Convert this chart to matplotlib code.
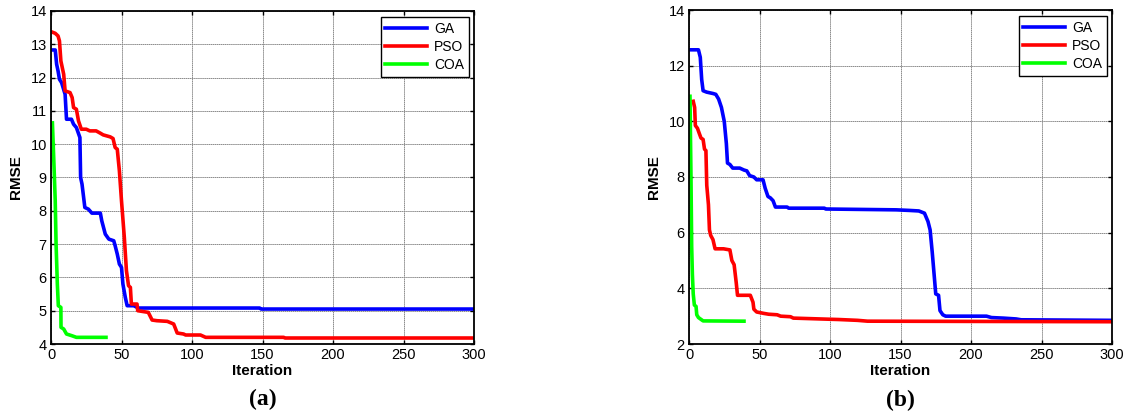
import numpy as np
import matplotlib
matplotlib.use("Agg")
import matplotlib.pyplot as plt

plt.rcParams["font.family"] = ["Liberation Sans", "DejaVu Sans"]

# ---- (a) convergence curves ----
a_ga_x = [0, 3, 4, 5, 6, 7.5, 10, 11, 14.5, 16, 18, 20.5, 21, 22, 24, 26.5, 29, 35, 36, 38.5, 41,
          44.5, 45.5, 47, 48.5, 50, 51, 52.7, 54, 58.7, 61, 62, 148, 149, 300]
a_ga_y = [12.83, 12.83, 12.4, 12.2, 11.95, 11.85, 11.5, 10.75, 10.75, 10.6, 10.5, 10.2, 9.0, 8.8, 8.1,
          8.05, 7.93, 7.93, 7.7, 7.3, 7.15, 7.1, 6.95, 6.7, 6.4, 6.3, 5.8, 5.4, 5.15, 5.15, 5.1, 5.08,
          5.08, 5.05, 5.05]
a_pso_x = [0, 3, 5, 6, 7, 9, 10, 13.5, 15, 16, 18, 19.5, 21.5, 25, 27.5, 32, 35, 37, 42, 44, 45.5, 47,
           48.5, 50, 52, 53.5, 55, 56.3, 57, 61, 61.5, 69, 71.7, 75, 82.5, 87, 89.5, 94, 95.5, 106,
           109.7, 165, 166, 300]
a_pso_y = [13.38, 13.33, 13.25, 13.1, 12.5, 12.1, 11.6, 11.55, 11.4, 11.1, 11.05, 10.7, 10.45, 10.45,
           10.4, 10.4, 10.33, 10.28, 10.22, 10.17, 9.9, 9.85, 9.2, 8.3, 7.2, 6.2, 5.75, 5.7, 5.2, 5.2,
           5.0, 4.95, 4.72, 4.7, 4.68, 4.6, 4.33, 4.3, 4.27, 4.27, 4.2, 4.2, 4.18, 4.18]
a_coa_x = [1, 2, 3, 3.6, 4.5, 5.2, 7, 7.1, 9, 11, 14.7, 18, 39]
a_coa_y = [10.64, 9.5, 8.3, 7.0, 5.8, 5.15, 5.1, 4.5, 4.45, 4.3, 4.25, 4.2, 4.2]

# ---- (b) convergence curves ----
b_ga_x = [0.7, 6.7, 8, 9, 10, 12.5, 17, 19, 21, 23, 25, 26.5, 27.3, 29, 31, 36, 39, 41, 43, 46, 48,
          52.5, 54, 56, 57.7, 59.6, 61.3, 69.6, 70.7, 96, 97, 147, 156, 163, 167, 169.5, 171, 172.5,
          174, 175, 177, 178, 180, 182, 211, 214.5, 223, 232, 235.6, 300]
b_ga_y = [12.57, 12.57, 12.3, 11.5, 11.1, 11.05, 11.0, 10.97, 10.8, 10.5, 10.0, 9.2, 8.5, 8.45, 8.32,
          8.32, 8.25, 8.22, 8.05, 8.0, 7.9, 7.9, 7.6, 7.3, 7.25, 7.15, 6.92, 6.92, 6.88, 6.88, 6.85,
          6.82, 6.8, 6.78, 6.7, 6.4, 6.1, 5.3, 4.4, 3.8, 3.75, 3.2, 3.05, 3.0, 3.0, 2.95, 2.93, 2.9,
          2.87, 2.85]
b_pso_x = [3, 4, 4.5, 6, 7.4, 8.5, 10, 11, 12, 12.6, 13.8, 14.5, 15.4, 17, 18.5, 24.5, 29, 30.4, 32,
           33.5, 34.4, 43.5, 45.4, 46, 48, 53, 56.5, 62.5, 65, 72, 74, 93, 106, 119.5, 126.6, 300]
b_pso_y = [10.72, 10.5, 9.85, 9.75, 9.55, 9.4, 9.35, 9.0, 8.95, 7.7, 7.0, 6.1, 5.9, 5.75, 5.42, 5.42,
           5.38, 5.0, 4.85, 4.2, 3.75, 3.75, 3.5, 3.25, 3.15, 3.1, 3.07, 3.05, 3.0, 2.98, 2.93, 2.9,
           2.88, 2.85, 2.82, 2.8]
b_coa_x = [0.7, 1.4, 1.9, 2.4, 3, 3.8, 5, 5.5, 6.7, 10, 39]
b_coa_y = [10.9, 8.0, 5.5, 4.5, 3.8, 3.4, 3.35, 3.05, 2.95, 2.83, 2.82]

W, H = 1131, 417
fig = plt.figure(figsize=(W / 100, H / 100), dpi=100)

def px_axes(x0, x1, y0, y1):
    return fig.add_axes([x0 / W, 1 - y1 / H, (x1 - x0) / W, (y1 - y0) / H])

def style(ax, ylim, yticks, lab):
    ax.set_xlim(0, 300)
    ax.set_ylim(*ylim)
    ax.set_xticks(np.arange(0, 301, 50))
    ax.set_yticks(yticks)
    ax.grid(True, color="#8c8c8c", lw=0.7, ls=(0, (1.5, 0.5)))
    ax.set_axisbelow(True)
    ax.tick_params(direction="in", top=True, right=True, length=3, width=1,
                   labelsize=10.5, pad=3)
    for s in ax.spines.values():
        s.set_linewidth(1.3)
    ax.set_ylabel("RMSE", fontsize=11, fontweight="bold")
    ax.yaxis.set_label_coords(-0.066, 0.5)
    ax.set_xlabel("Iteration", fontsize=11, fontweight="bold", labelpad=1)
    ax.text(0.5, -0.168, lab, transform=ax.transAxes, ha="center", va="center",
            fontsize=17, fontweight="bold", family=["Liberation Serif", "DejaVu Serif"])
    leg = ax.legend(loc="upper right", bbox_to_anchor=(0.988, 0.982), fontsize=10,
                    fancybox=False, framealpha=1, edgecolor="black", borderpad=0.35,
                    labelspacing=0.3, handlelength=3.0, handletextpad=0.5, borderaxespad=0)
    leg.get_frame().set_linewidth(1.0)

lw = 2.6
ax1 = px_axes(51, 474, 11, 344)
ax1.plot(a_ga_x, a_ga_y, color="#0000ff", lw=lw, label="GA")
ax1.plot(a_pso_x, a_pso_y, color="#ff0000", lw=lw, label="PSO")
ax1.plot(a_coa_x, a_coa_y, color="#00ff00", lw=lw, label="COA")
style(ax1, (4, 14), np.arange(4, 15, 1), "(a)")

ax2 = px_axes(689, 1112, 10, 344)
ax2.plot(b_ga_x, b_ga_y, color="#0000ff", lw=lw, label="GA")
ax2.plot(b_pso_x, b_pso_y, color="#ff0000", lw=lw, label="PSO")
ax2.plot(b_coa_x, b_coa_y, color="#00ff00", lw=lw, label="COA")
style(ax2, (2, 14), np.arange(2, 15, 2), "(b)")

fig.savefig("out.png", dpi=100)
